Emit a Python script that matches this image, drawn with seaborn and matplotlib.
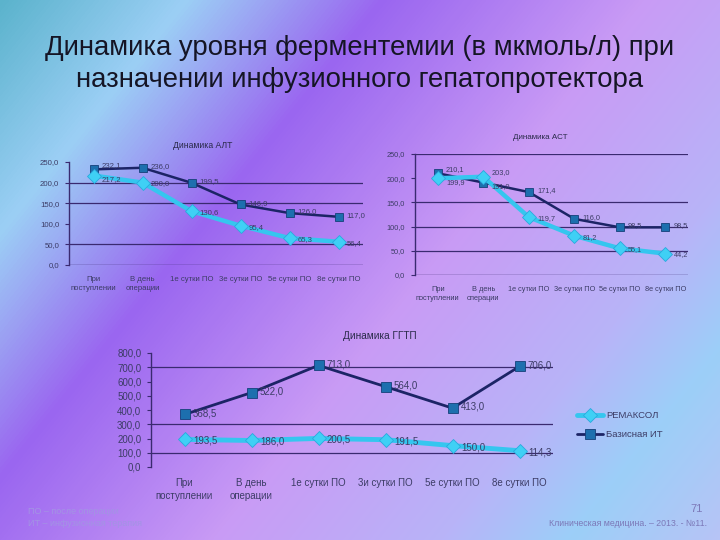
import numpy as np
import pandas as pd
import matplotlib
matplotlib.use("Agg")
import matplotlib.pyplot as plt
from matplotlib.colors import LinearSegmentedColormap
import seaborn as sns

sns.set_style("white")
plt.rcParams['font.family'] = ['Liberation Sans Narrow', 'Liberation Sans', 'DejaVu Sans']

# ---------------- data ----------------
cats_short = ["При\nпоступлении", "В день\nоперации", "1е сутки ПО", "3е сутки ПО", "5е сутки ПО", "8е сутки ПО"]
cats_ggtp = ["При\nпоступлении", "В день\nоперации", "1е сутки ПО", "3и сутки ПО", "5е сутки ПО", "8е сутки ПО"]
series_names = ["РЕМАКСОЛ", "Базисная ИТ"]

alt_remaxol = [217.2, 200.0, 130.6, 95.4, 65.3, 56.4]
alt_base = [232.1, 236.0, 199.5, 146.9, 126.0, 117.0]

ast_remaxol = [199.9, 203.0, 119.7, 81.2, 55.1, 44.2]
ast_base = [210.1, 191.0, 171.4, 116.0, 98.5, 98.5]

ggtp_remaxol = [193.5, 186.0, 200.5, 191.5, 150.0, 114.3]
ggtp_base = [368.5, 522.0, 713.0, 564.0, 413.0, 706.0]

titles = ["Динамика АЛТ", "Динамика АСТ", "Динамика ГГТП"]

# ---------------- figure + background ----------------
W, H = 720, 540
fig = plt.figure(figsize=(7.2, 5.4), dpi=100)
bg = fig.add_axes([0, 0, 1, 1])
xx, yy = np.meshgrid(np.arange(W), np.arange(H))
t = (xx + 0.8 * yy) / (W + 0.8 * H)
stops = [(0.0, "#5bb3cc"), (0.16, "#9ccff5"), (0.33, "#9a66f0"),
         (0.56, "#c99bf5"), (0.76, "#b8b4f8"), (0.87, "#9ccff8"), (1.0, "#b7c4f6")]
cmap = LinearSegmentedColormap.from_list("bg", stops)
bg.imshow(t, cmap=cmap, vmin=0, vmax=1, aspect="auto", extent=[0, W, H, 0])
bg.set_axis_off()

fig.text(0.5, 1 - 48 / H, "Динамика уровня ферментемии (в мкмоль/л) при",
         ha="center", va="center", fontsize=19.8, color="#151525")
fig.text(0.5, 1 - 80 / H, "назначении инфузионного гепатопротектора",
         ha="center", va="center", fontsize=19.8, color="#151525")

REM_COLOR = "#35c6ef"
BASE_LINE = "#1c2466"
BASE_MARK = "#1d6fae"
GRID = "#3a2a70"
TXT = "#3c3c66"


def fmt(v):
    return f"{v:.1f}".replace(".", ",")


def panel(rect, cats, rem, base, title, ymax, ystep, grids, fs_tick, fs_lab, fs_title,
          title_xy, bottom_line=True, msize=(7, 6), lw=(3.2, 1.8), dy=3.0):
    ax = fig.add_axes(rect)
    ax.patch.set_alpha(0)
    x = np.arange(len(cats))
    df = pd.DataFrame({"x": np.concatenate([x, x]),
                       "v": rem + base,
                       "s": [series_names[0]] * len(x) + [series_names[1]] * len(x)})
    for yv in grids:
        ax.axhline(yv, color=GRID, lw=0.9, zorder=1)
    if bottom_line:
        ax.axhline(0, color=GRID, lw=1.0, zorder=1)
    sns.lineplot(data=df[df.s == series_names[1]], x="x", y="v", ax=ax, color=BASE_LINE,
                 lw=lw[1], marker="s", markersize=msize[1], markerfacecolor=BASE_MARK,
                 markeredgecolor="#15407a", markeredgewidth=0.6, zorder=3, label=series_names[1])
    sns.lineplot(data=df[df.s == series_names[0]], x="x", y="v", ax=ax, color=REM_COLOR,
                 lw=lw[0], marker="D", markersize=msize[0], markerfacecolor="#3fd0f5",
                 markeredgecolor="#2aa8dd", markeredgewidth=0.6, zorder=4, label=series_names[0])
    for xi, vr, vb in zip(x, rem, base):
        close = abs(vr - vb) < ymax * 0.1
        up_b = dy if vb >= vr else -dy
        ob = up_b if close else 1.0
        orr = -up_b if close else -1.0
        ax.annotate(fmt(vb), (xi, vb), xytext=(6, ob), textcoords="offset points",
                    fontsize=fs_lab, color=TXT, va="center", ha="left", zorder=5)
        ax.annotate(fmt(vr), (xi, vr), xytext=(6, orr), textcoords="offset points",
                    fontsize=fs_lab, color=TXT, va="center", ha="left", zorder=5)
    ax.set_xlim(-0.5, len(cats) - 0.5)
    ax.set_ylim(0, ymax)
    ax.set_yticks(np.arange(0, ymax + 1, ystep))
    ax.set_yticklabels([fmt(v) for v in np.arange(0, ymax + 1, ystep)], fontsize=fs_tick, color=TXT)
    ax.set_xticks(x)
    ax.set_xticklabels(cats, fontsize=fs_tick, color=TXT, linespacing=1.3)
    ax.tick_params(axis="x", length=0, pad=8)
    ax.tick_params(axis="y", length=3, color=GRID, pad=4, direction="out", left=True)
    ax.set_xlabel("")
    ax.set_ylabel("")
    for sp in ["top", "right", "bottom"]:
        ax.spines[sp].set_visible(False)
    ax.spines["left"].set_color(GRID)
    ax.spines["left"].set_linewidth(1.0)
    if ax.get_legend() is not None:
        ax.get_legend().remove()
    fig.text(title_xy[0] / W, 1 - title_xy[1] / H, title, ha="center", va="center",
             fontsize=fs_title, color="#2a2a4a")
    return ax


panel([69 / W, 1 - 265 / H, 294 / W, 103 / H], cats_short, alt_remaxol, alt_base, titles[0],
      250, 50, [50, 150, 200], 5.6, 5.6, 6.2, (203, 145))
panel([415 / W, 1 - 275 / H, 273 / W, 121 / H], cats_short, ast_remaxol, ast_base, titles[1],
      250, 50, [50, 100, 150, 250], 5.3, 5.3, 5.8, (540, 137))
ax3 = panel([151 / W, 1 - 467 / H, 402 / W, 114 / H], cats_ggtp, ggtp_remaxol, ggtp_base, titles[2],
            800, 100, [100, 300, 700], 7.0, 7.0, 7.2, (380, 336), bottom_line=False,
            msize=(7.5, 7), lw=(3.5, 2.0))

handles, labels = ax3.get_legend_handles_labels()
order = [labels.index(series_names[0]), labels.index(series_names[1])]
fig.legend([handles[i] for i in order], [labels[i] for i in order],
           loc="center left", bbox_to_anchor=(568 / W, 1 - 425 / H), frameon=False,
           fontsize=6.8, handlelength=2.8, labelspacing=1.1, handletextpad=0.3,
           labelcolor=TXT)

fig.text(28 / W, 1 - 511 / H, "ПО – после операции", fontsize=6.5, color="#a394e4", va="center")
fig.text(28 / W, 1 - 524 / H, "ИТ – инфузионная терапия", fontsize=6.5, color="#a394e4", va="center")
fig.text(697 / W, 1 - 509 / H, "71", fontsize=8, color="#7c78b8", va="center", ha="center")
fig.text(707 / W, 1 - 524 / H, "Клиническая медицина. – 2013. - №11.", fontsize=6.3,
         color="#7c78b8", va="center", ha="right")

fig.savefig("out.png", dpi=100)
